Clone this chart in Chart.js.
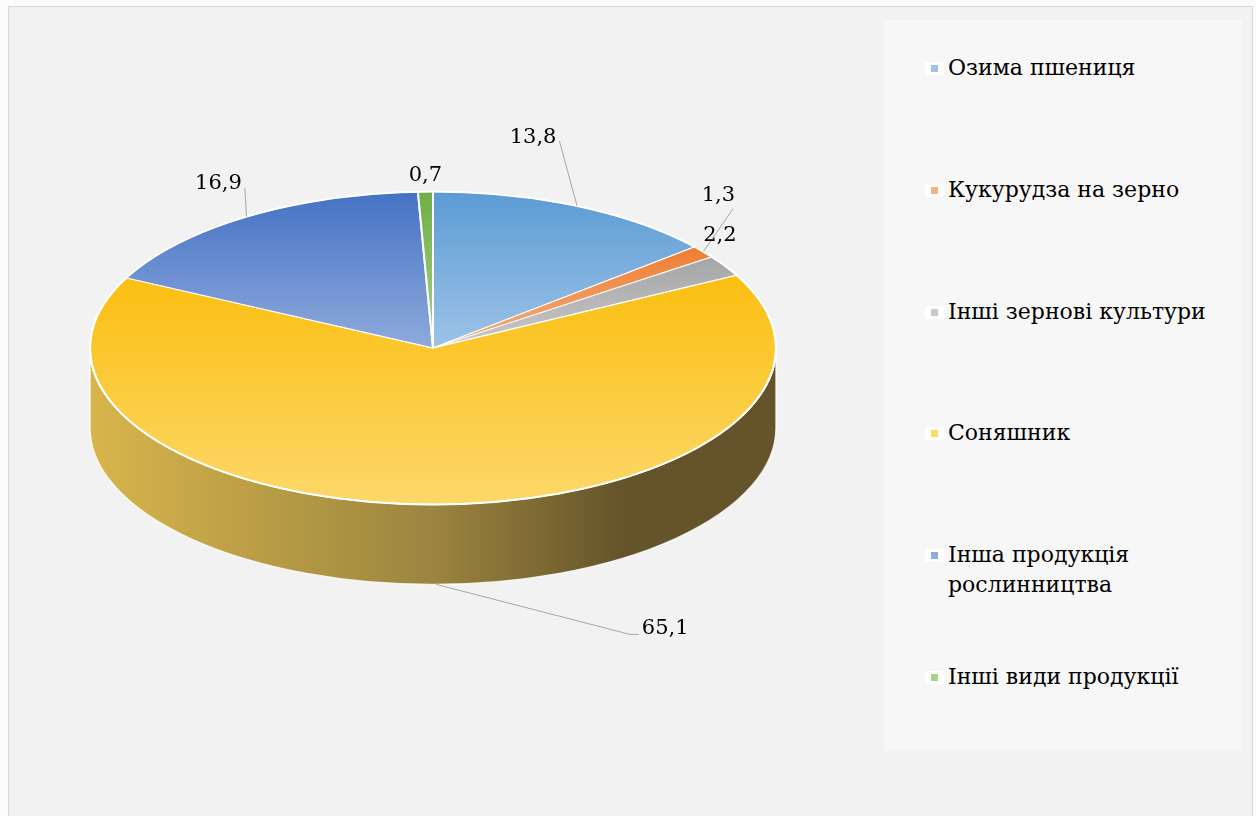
<!DOCTYPE html>
<html lang="uk">
<head>
<meta charset="utf-8">
<script src="https://cdn.jsdelivr.net/npm/chart.js@4.4.1/dist/chart.umd.min.js"></script>
<style>
  body { margin: 0; background: #fbfbfb; width: 1256px; height: 816px; overflow: hidden; position: relative; }
  #frame { position: absolute; left: 8px; top: 6px; width: 1245px; height: 820px; background: #f2f2f2; border: 1px solid #d9d9d9; box-sizing: border-box; }
  #legend { position: absolute; left: 884px; top: 20px; width: 358px; height: 731px; background: #f7f7f7; }
  #chart { position: absolute; left: 0; top: 0; }
  .item { position: absolute; left: 64px; width: 285px; font: 22px "DejaVu Serif", serif; line-height: 30px; color: #000; }
  .mark { position: absolute; left: -23px; top: 9px; width: 19px; height: 13px; background: #fff; border-radius: 2px; }
  .mark i { position: absolute; left: 6px; top: 3px; width: 7px; height: 7px; }
</style>
</head>
<body>
<div id="frame"></div>
<div id="legend"></div>
<canvas id="chart" width="1256" height="816"></canvas>
<script>
// структура продукції, %
var categories = ['Озима пшениця', 'Кукурудза на зерно', 'Інші зернові культури', 'Соняшник', 'Інша продукція рослинництва', 'Інші види продукції'];
var shares = [13.8, 1.3, 2.2, 65.1, 16.9, 0.7];
var valueLabels = ['13,8', '1,3', '2,2', '65,1', '16,9', '0,7'];

// кольори: верх сектора, низ сектора, маркер легенди
var topColors = ['#5B9BD5', '#ED7D31', '#A5A5A5', '#FBBF10', '#4472C4', '#70AD47'];
var bottomColors = ['#9DC3E6', '#F4B183', '#C9C9C9', '#FCD86A', '#8FAADC', '#A9D18E'];
var legendColors = ['#9DC3E6', '#F4B183', '#C9C9C9', '#FFD966', '#8FAADC', '#A9D18E'];
var wallLight = ['#4E86B8', '#C86A2A', '#8C8C8C', '#D8B54C', '#3A61A6', '#5F933C'];
var wallMid = ['#3A6590', '#96501F', '#6A6A6A', '#9B853F', '#2C4A80', '#47702D'];
var wallDark = ['#24405C', '#5E3214', '#434343', '#65532A', '#1C2F52', '#2D461D'];

// зсув підпису від точки прив'язки і чи малювати лінію-виноску
var labelOffsets = [[-44, -69], [15, -56], [-5, -30], [229, 44], [-28, -33], [0, -16]];
var leaders = [true, true, false, true, true, false];

var labelFont = '21px "DejaVu Serif", serif';
var tiltK = 0.456;
var depth = 80;

var sliceAngles = () => {
  var total = shares.reduce((a, b) => a + b, 0);
  var out = [];
  var a = -Math.PI / 2;
  for (const v of shares) {
    var b = a + v / total * Math.PI * 2;
    out.push([a, b]);
    a = b;
  }
  return out;
};

var fillFor = (context) => {
  var i = context.dataIndex;
  var area = context.chart.chartArea;
  if (!area) return topColors[i];
  var cx = (area.left + area.right) / 2;
  var cy = (area.top + area.bottom) / 2;
  var r = Math.min(area.width, area.height) / 2;
  var [s, e] = sliceAngles()[i];
  var yMin = cy, yMax = cy;
  for (var t = 0; t <= 40; t++) {
    var y = cy + r * Math.sin(s + (e - s) * t / 40);
    yMin = Math.min(yMin, y);
    yMax = Math.max(yMax, y);
  }
  var g = context.chart.ctx.createLinearGradient(0, yMin, 0, yMax);
  g.addColorStop(0, topColors[i]);
  g.addColorStop(1, bottomColors[i]);
  return g;
};

var tilt = {
  id: 'tilt',
  beforeDatasetsDraw(chart) {
    var ctx = chart.ctx;
    var arcs = chart.getDatasetMeta(0).data;
    var {x, y, outerRadius: r} = arcs[0];
    var ry = r * tiltK;

    // бічна стінка (видима передня половина)
    arcs.forEach((arc, i) => {
      var s = arc.startAngle, e = arc.endAngle;
      var a0 = Math.max(s, 0), a1 = Math.min(e, Math.PI);
      if (a1 <= a0) return;
      var g = ctx.createLinearGradient(x - r, 0, x + r, 0);
      g.addColorStop(0, wallLight[i]);
      g.addColorStop(0.5, wallMid[i]);
      g.addColorStop(0.78, wallDark[i]);
      g.addColorStop(1, wallDark[i]);
      ctx.save();
      ctx.beginPath();
      ctx.ellipse(x, y, r, ry, 0, a0, a1);
      ctx.lineTo(x + r * Math.cos(a1), y + ry * Math.sin(a1) + depth);
      ctx.ellipse(x, y + depth, r, ry, 0, a1, a0, true);
      ctx.closePath();
      ctx.fillStyle = g;
      ctx.fill();
      ctx.strokeStyle = 'rgba(255,255,255,0.8)';
      ctx.lineWidth = 1.5;
      ctx.stroke();
      ctx.restore();
    });

    ctx.save();
    ctx.translate(0, y);
    ctx.scale(1, tiltK);
    ctx.translate(0, -y);
  },
  afterDatasetsDraw(chart) {
    var ctx = chart.ctx;
    ctx.restore();
    var arcs = chart.getDatasetMeta(0).data;
    var {x, y, outerRadius: r} = arcs[0];
    var ry = r * tiltK;

    // білий обідок верхньої грані
    ctx.save();
    ctx.beginPath();
    ctx.ellipse(x, y, r, ry, 0, 0, Math.PI * 2);
    ctx.strokeStyle = '#fff';
    ctx.lineWidth = 2;
    ctx.stroke();
    ctx.restore();

    // підписи значень
    ctx.save();
    ctx.font = labelFont;
    ctx.fillStyle = '#000';
    ctx.textAlign = 'center';
    ctx.textBaseline = 'middle';
    arcs.forEach((arc, i) => {
      var m = (arc.startAngle + arc.endAngle) / 2;
      var ax = x + r * Math.cos(m);
      var ay = y + ry * Math.sin(m) + (Math.sin(m) > 0 ? depth : 0);
      var lx = ax + labelOffsets[i][0];
      var ly = ay + labelOffsets[i][1];
      var w = ctx.measureText(valueLabels[i]).width;
      if (leaders[i]) {
        var ex, ey, pts;
        if (lx - w / 2 > ax + 4) {
          ex = lx - w / 2 - 3; ey = ly + 6;
          pts = [[ax, ay], [ex - 9, ey], [ex, ey]];
        } else if (lx + w / 2 < ax - 4) {
          ex = lx + w / 2 + 3; ey = ly + 4;
          pts = [[ax, ay], [ex, ey]];
        } else {
          ex = lx + w / 2 - 2; ey = ly + 13;
          pts = [[ax, ay], [ex, ey]];
        }
        ctx.beginPath();
        ctx.moveTo(pts[0][0], pts[0][1]);
        for (var p = 1; p < pts.length; p++) ctx.lineTo(pts[p][0], pts[p][1]);
        ctx.strokeStyle = '#a6a6a6';
        ctx.lineWidth = 1;
        ctx.stroke();
      }
      ctx.fillText(valueLabels[i], lx, ly);
    });
    ctx.restore();
  }
};

new Chart(document.getElementById('chart'), {
  type: 'pie',
  data: {
    labels: categories,
    datasets: [{
      data: shares,
      backgroundColor: fillFor,
      borderColor: '#ffffff',
      borderWidth: 2
    }]
  },
  options: {
    responsive: false,
    animation: false,
    events: [],
    layout: { padding: { left: 89, right: 479, top: 4, bottom: 124 } },
    plugins: { legend: { display: false }, tooltip: { enabled: false } }
  },
  plugins: [tilt]
});

// легенда
var legend = document.getElementById('legend');
categories.forEach((name, i) => {
  var item = document.createElement('div');
  item.className = 'item';
  item.style.top = (68 - 20 - 15 + 121.8 * i) + 'px';
  item.innerHTML = '<span class="mark"><i style="background:' + legendColors[i] + '"></i></span>' + name;
  legend.appendChild(item);
});
</script>
</body>
</html>
